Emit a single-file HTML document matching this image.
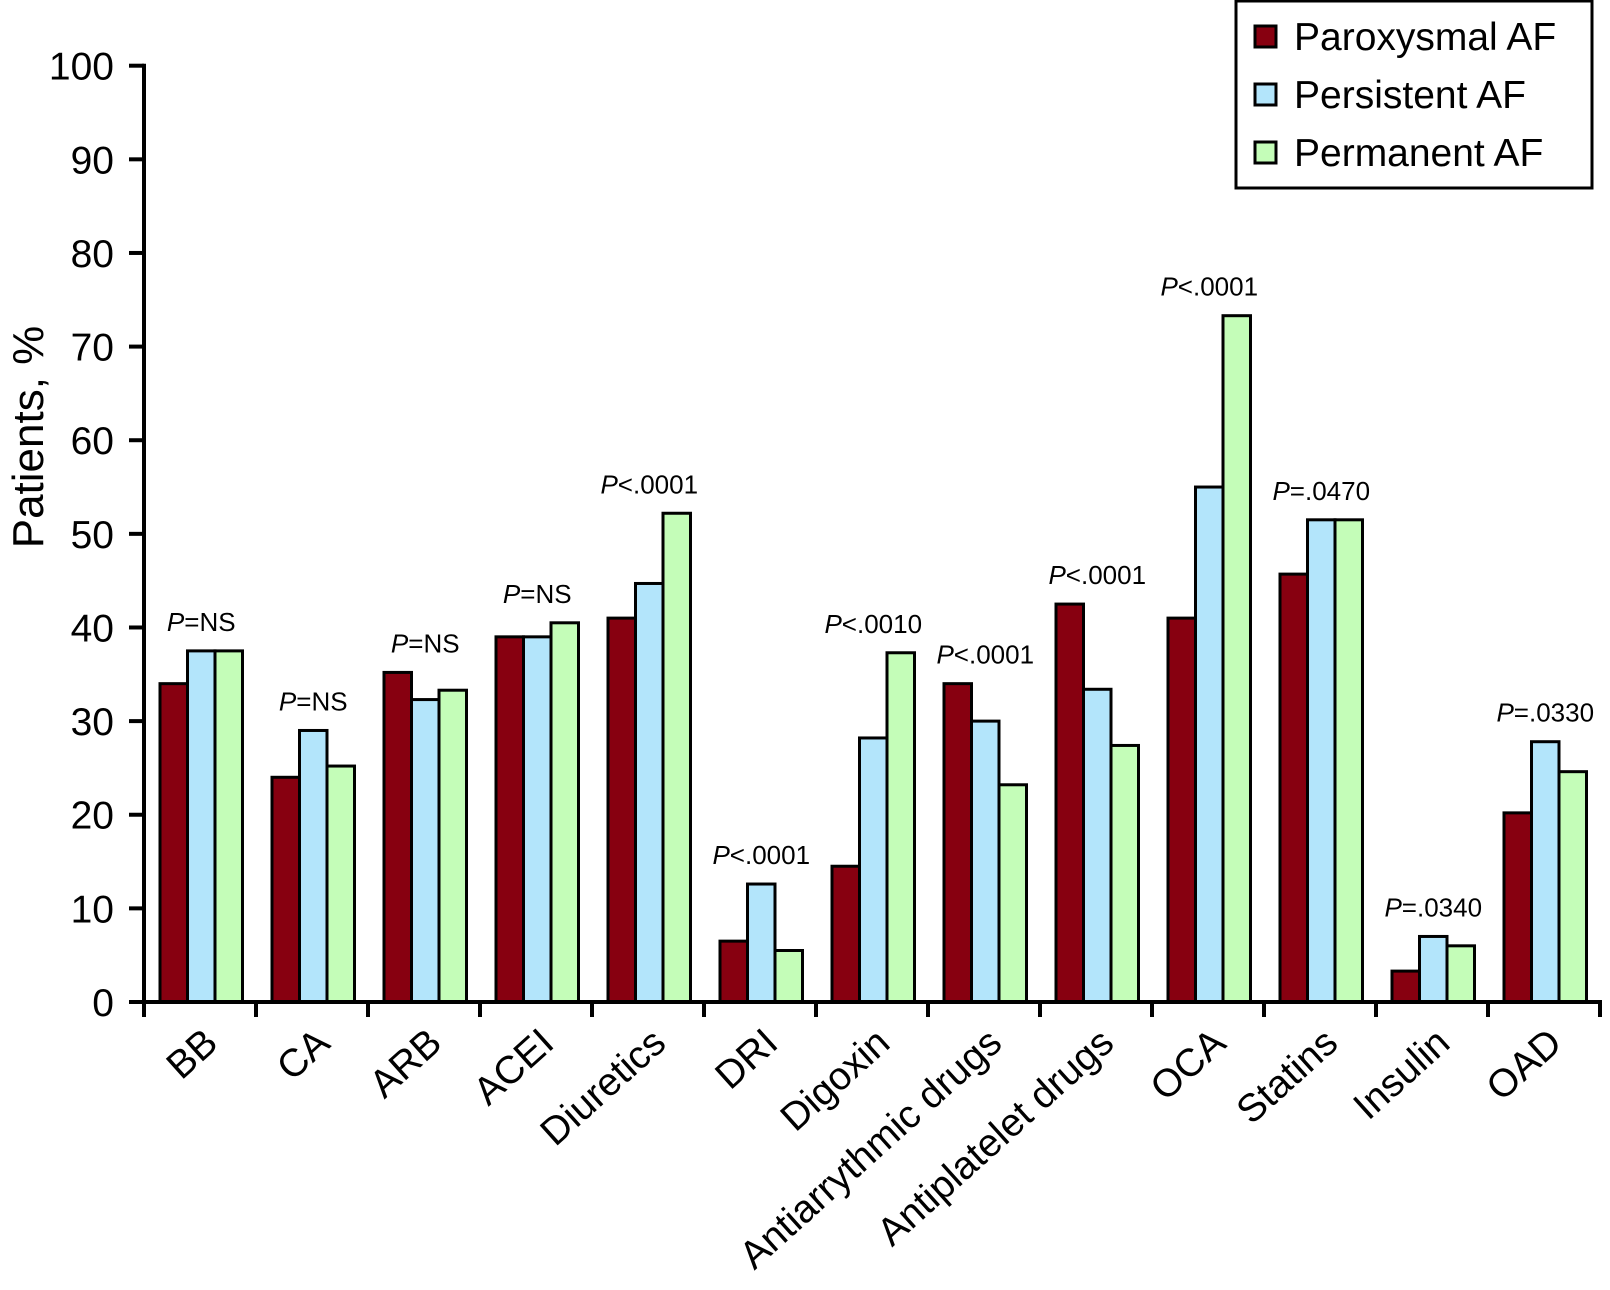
<!DOCTYPE html>
<html><head><meta charset="utf-8"><style>
body{margin:0;background:#fff}
svg{display:block;font-family:"Liberation Sans",Arial,sans-serif}
</style></head><body>
<svg id="chart" width="1610" height="1290" viewBox="0 0 1610 1290">
<g id="bars"></g>
<g id="axes"></g>
<text transform="translate(43,437) rotate(-90)" text-anchor="middle" font-size="44">Patients, %</text>
<g>
<rect x="1236" y="1" width="356" height="187" fill="#fff" stroke="#000" stroke-width="3"/>
<g><rect x="1255" y="26" width="21" height="21" fill="#870010" stroke="#000" stroke-width="3"/><text x="1294" y="50" font-size="39">Paroxysmal AF</text></g>
<g><rect x="1255" y="84" width="21" height="21" fill="#b3e5fb" stroke="#000" stroke-width="3"/><text x="1294" y="108" font-size="39">Persistent AF</text></g>
<g><rect x="1255" y="142" width="21" height="21" fill="#c4fdb8" stroke="#000" stroke-width="3"/><text x="1294" y="166" font-size="39">Permanent AF</text></g>
</g>
</svg>
<script>
const categories=["BB","CA","ARB","ACEI","Diuretics","DRI","Digoxin","Antiarrythmic drugs","Antiplatelet drugs","OCA","Statins","Insulin","OAD"];
const paroxysmal=[34,24,35.2,39,41,6.5,14.5,34,42.5,41,45.7,3.3,20.2];
const persistent=[37.5,29,32.3,39,44.7,12.6,28.2,30,33.4,55,51.5,7,27.8];
const permanent=[37.5,25.2,33.3,40.5,52.2,5.5,37.3,23.2,27.4,73.3,51.5,6,24.6];
const pLabels=["=NS","=NS","=NS","=NS","<.0001","<.0001","<.0010","<.0001","<.0001","<.0001","=.0470","=.0340","=.0330"];
const yTicks=[0,10,20,30,40,50,60,70,80,90,100];
const NS="http://www.w3.org/2000/svg";
const x0=144,step=112,yBase=1002,yTop=65.7;
const y=v=>yBase-(yBase-yTop)*v/100;
const xc=i=>x0+step*i;
const colors=["#870010","#b3e5fb","#c4fdb8"];
const series=[paroxysmal,persistent,permanent];
const names=["paroxysmal","persistent","permanent"];
const bars=document.getElementById('bars'),axes=document.getElementById('axes');
function mk(t,a,p){const e=document.createElementNS(NS,t);for(const k in a)e.setAttribute(k,a[k]);p.appendChild(e);return e;}
const bw=27.5,off=16;
categories.forEach((c,i)=>{
  series.forEach((s,j)=>{
    const r=mk('rect',{x:xc(i)+off+bw*j,y:y(s[i]),width:bw,height:yBase-y(s[i]),fill:colors[j],stroke:'#000','stroke-width':3},bars);
    
    
  });
  const mx=Math.max(paroxysmal[i],persistent[i],permanent[i]);
  const t=mk('text',{x:xc(i)+off+bw*1.5,y:y(mx)-20,'text-anchor':'middle','font-size':26},bars);
  
  
  const ts=mk('tspan',{'font-style':'italic'},t);ts.textContent='P';
  t.appendChild(document.createTextNode(pLabels[i]));
  const lx=xc(i)+step/2+20,ly=1046;
  const l=mk('text',{x:lx,y:ly,'text-anchor':'end','font-size':39,transform:`rotate(-42 ${lx} ${ly})`},axes);
  
  
  l.textContent=c;
});
mk('line',{x1:x0,y1:yTop-2,x2:x0,y2:yBase+2,stroke:'#000','stroke-width':4},axes);
mk('line',{x1:x0-2,y1:yBase,x2:x0+step*categories.length+2,y2:yBase,stroke:'#000','stroke-width':4},axes);
for(let i=0;i<=categories.length;i++)mk('line',{x1:xc(i),y1:yBase,x2:xc(i),y2:yBase+15,stroke:'#000','stroke-width':4},axes);
yTicks.forEach(v=>{
  mk('line',{x1:x0-15,y1:y(v),x2:x0,y2:y(v),stroke:'#000','stroke-width':4},axes);
  const t=mk('text',{x:x0-30,y:y(v)+14,'text-anchor':'end','font-size':39},axes);
  
  
  t.textContent=v;
});
</script>
</body></html>
